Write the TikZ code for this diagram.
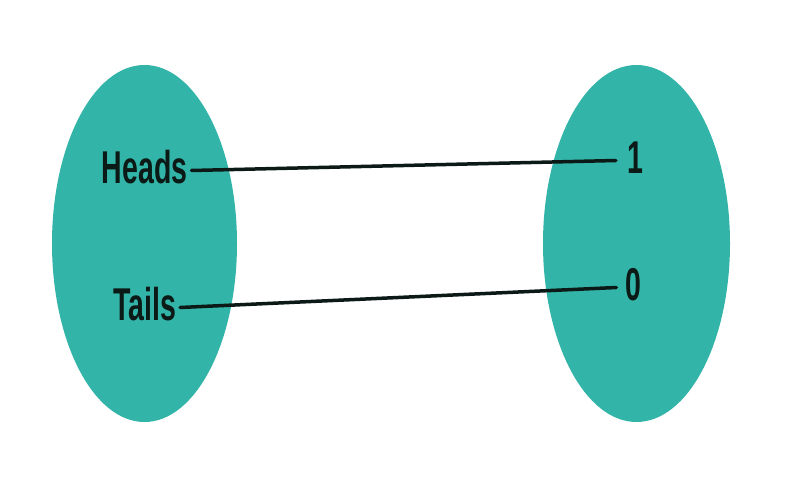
\documentclass[tikz,border=0pt]{standalone}
\usepackage{fontspec}
\setmainfont[FakeStretch=0.62]{Liberation Sans}
\definecolor{teal}{HTML}{32B5A8}
\definecolor{ink}{HTML}{0B1A16}
\tikzset{
  setblob/.style={fill=teal, draw=none},
  lbl/.style={font=\fontsize{46}{46}\selectfont\bfseries, text=ink, anchor=base,
              text height=33pt, text depth=8pt, inner ysep=0pt, inner xsep=4pt},
  link/.style={draw=ink, line width=3.5pt, line cap=round}
}
\begin{document}
\begin{tikzpicture}[x=1pt,y=-1pt]
  \useasboundingbox (0,0) rectangle (787,500);
  \fill[white] (0,0) rectangle (787,500);
  \path[setblob] (144.5,243.5) ellipse [x radius=92.5, y radius=178.5];
  \path[setblob] (636.5,243.5) ellipse [x radius=93.5, y radius=178.5];
  \node[lbl] (heads) at (144.5,183) {Heads};
  \node[lbl] (tails) at (144.5,320) {Tails};
  \node[lbl, inner xsep=11pt] (one) at (635,173) {1};
  \node[lbl, inner xsep=9pt] (zero) at (633.5,300) {0};
  \draw[link] (heads.east) -- (one.west);
  \draw[link] (tails.east) -- (zero.west);
\end{tikzpicture}
\end{document}
